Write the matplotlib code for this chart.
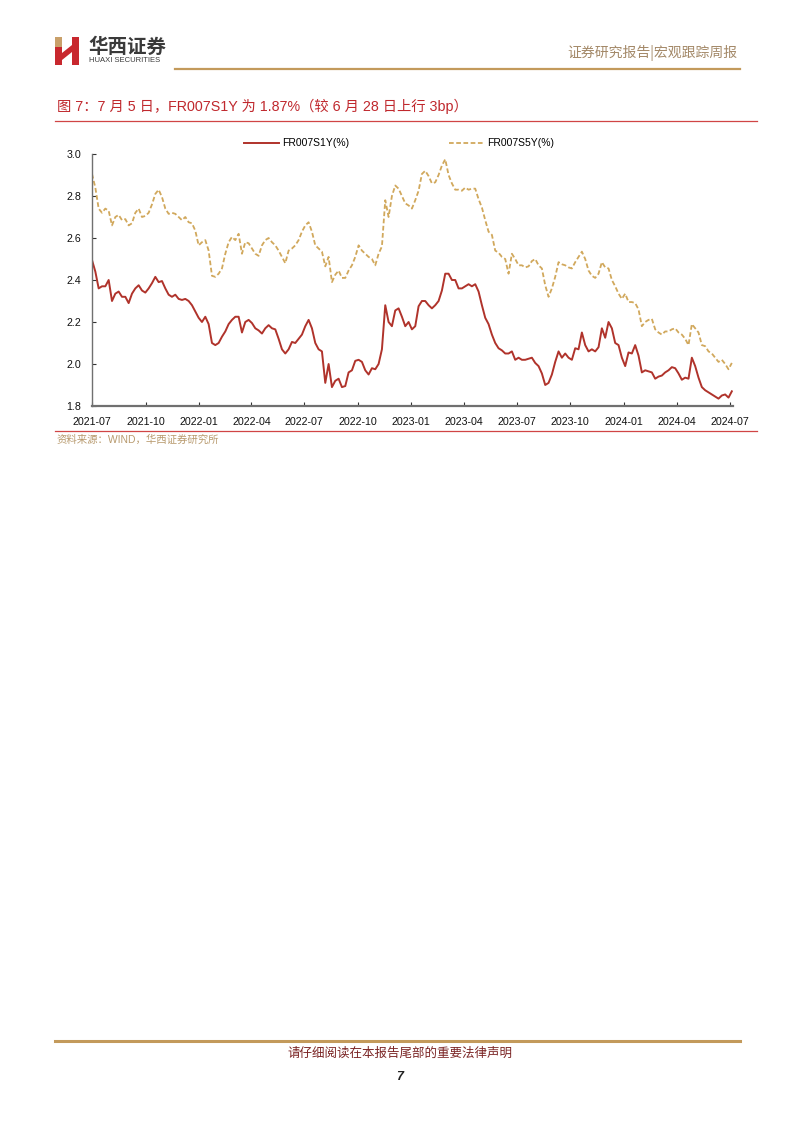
import matplotlib
matplotlib.use("Agg")
import matplotlib.pyplot as plt
import matplotlib.dates as mdates
from matplotlib.lines import Line2D
from matplotlib.patches import Rectangle, Polygon
import pandas as pd

W, H = 802, 1133

# FR007 swap rates (roughly every 5-6 days)
s1y = [
    2.495, 2.44, 2.36, 2.37, 2.37, 2.40, 2.30, 2.335, 2.345, 2.32,
    2.32, 2.29, 2.335, 2.36, 2.375, 2.35, 2.34, 2.36, 2.385, 2.415,
    2.39, 2.395, 2.36, 2.33, 2.32, 2.33, 2.31, 2.305, 2.31, 2.30,
    2.28, 2.25, 2.22, 2.20, 2.225, 2.19, 2.10, 2.09, 2.10, 2.13,
    2.155, 2.19, 2.21, 2.225, 2.225, 2.15, 2.20, 2.21, 2.195, 2.17,
    2.16, 2.145, 2.17, 2.185, 2.17, 2.165, 2.12, 2.07, 2.05, 2.07,
    2.105, 2.10, 2.12, 2.14, 2.18, 2.21, 2.17, 2.10, 2.07, 2.06,
    1.91, 2.00, 1.89, 1.92, 1.93, 1.89, 1.895, 1.96, 1.97, 2.015,
    2.02, 2.01, 1.97, 1.95, 1.98, 1.975, 2.00, 2.07, 2.28, 2.20,
    2.18, 2.255, 2.265, 2.225, 2.18, 2.20, 2.165, 2.18, 2.275, 2.30,
    2.30, 2.28, 2.265, 2.28, 2.30, 2.35, 2.43, 2.43, 2.40, 2.40,
    2.36, 2.36, 2.37, 2.38, 2.37, 2.38, 2.345, 2.28, 2.22, 2.19,
    2.14, 2.10, 2.075, 2.065, 2.05, 2.05, 2.06, 2.02, 2.03, 2.02,
    2.02, 2.025, 2.03, 2.005, 1.99, 1.955, 1.90, 1.91, 1.95, 2.01,
    2.06, 2.03, 2.05, 2.03, 2.02, 2.075, 2.07, 2.15, 2.09, 2.06,
    2.07, 2.06, 2.08, 2.17, 2.125, 2.20, 2.17, 2.10, 2.09, 2.03,
    1.99, 2.055, 2.05, 2.09, 2.04, 1.96, 1.97, 1.965, 1.96, 1.93,
    1.94, 1.945, 1.96, 1.97, 1.985, 1.98, 1.955, 1.925, 1.935, 1.93,
    2.03, 1.99, 1.935, 1.89, 1.875, 1.865, 1.855, 1.845, 1.835, 1.85,
    1.855, 1.84, 1.87,
]

s5y = [
    2.905, 2.84, 2.74, 2.72, 2.74, 2.73, 2.66, 2.70, 2.71, 2.685,
    2.69, 2.66, 2.67, 2.72, 2.74, 2.70, 2.705, 2.72, 2.76, 2.81,
    2.83, 2.795, 2.74, 2.715, 2.72, 2.715, 2.70, 2.685, 2.70, 2.675,
    2.67, 2.635, 2.565, 2.58, 2.59, 2.54, 2.42, 2.415, 2.43, 2.455,
    2.525, 2.58, 2.605, 2.59, 2.62, 2.525, 2.58, 2.575, 2.55, 2.525,
    2.515, 2.565, 2.59, 2.60, 2.58, 2.565, 2.54, 2.51, 2.48, 2.54,
    2.55, 2.565, 2.59, 2.63, 2.66, 2.675, 2.63, 2.565, 2.55, 2.535,
    2.465, 2.51, 2.39, 2.425, 2.445, 2.41, 2.41, 2.445, 2.47, 2.51,
    2.565, 2.54, 2.525, 2.51, 2.50, 2.47, 2.525, 2.56, 2.78, 2.70,
    2.80, 2.85, 2.835, 2.80, 2.765, 2.755, 2.74, 2.78, 2.825, 2.905,
    2.92, 2.895, 2.86, 2.865, 2.90, 2.945, 2.975, 2.90, 2.86, 2.83,
    2.83, 2.825, 2.84, 2.83, 2.835, 2.835, 2.785, 2.745, 2.685, 2.63,
    2.615, 2.54, 2.53, 2.51, 2.50, 2.43, 2.525, 2.50, 2.47, 2.47,
    2.46, 2.465, 2.49, 2.50, 2.47, 2.455, 2.375, 2.32, 2.36, 2.415,
    2.485, 2.475, 2.47, 2.46, 2.455, 2.485, 2.51, 2.535, 2.50, 2.445,
    2.42, 2.41, 2.43, 2.485, 2.46, 2.455, 2.40, 2.37, 2.335, 2.31,
    2.335, 2.295, 2.295, 2.29, 2.26, 2.18, 2.20, 2.21, 2.215, 2.165,
    2.15, 2.14, 2.155, 2.155, 2.165, 2.17, 2.15, 2.14, 2.12, 2.09,
    2.19, 2.17, 2.15, 2.09, 2.085, 2.06, 2.05, 2.03, 2.01, 2.02,
    2.00, 1.975, 2.005,
]

start_date, end_date = "2021-07-01", "2024-07-05"
tick_dates = pd.date_range("2021-07-01", "2024-07-01", freq="QS")
y_ticks = [1.8, 2.0, 2.2, 2.4, 2.6, 2.8, 3.0]

RED = "#b0332b"
GOLD = "#d1a85c"
CJK = ["Liberation Sans", "Noto Sans CJK SC", "DejaVu Sans"]

plt.rcParams["font.family"] = CJK


def fx(x):
    return x / W


def fy(y):
    return 1 - y / H


def hline(fig, x0, x1, y, color, lw):
    fig.add_artist(Line2D([fx(x0), fx(x1)], [fy(y), fy(y)],
                          transform=fig.transFigure, color=color, lw=lw))


fig = plt.figure(figsize=(W / 100, H / 100), dpi=100)

# header: logo, name, report type
fig.add_artist(Rectangle((fx(55), fy(47)), fx(7), 10 / H, transform=fig.transFigure,
                         color="#c9a06a", lw=0))
fig.add_artist(Rectangle((fx(55), fy(65)), fx(7), 18 / H, transform=fig.transFigure,
                         color="#c8282e", lw=0))
fig.add_artist(Rectangle((fx(72), fy(65)), fx(7), 28 / H, transform=fig.transFigure,
                         color="#c8282e", lw=0))
fig.add_artist(Polygon([(fx(62), fy(53)), (fx(72), fy(45)), (fx(72), fy(52)), (fx(62), fy(60))],
                       closed=True, transform=fig.transFigure, color="#c8282e", lw=0))
fig.text(fx(88), fy(47), "华西证券", fontsize=14, fontweight="bold", color="#3a3a3a",
         va="center", ha="left", family="Noto Sans CJK SC")
fig.text(fx(89), fy(61), "HUAXI SECURITIES", fontsize=5.5, color="#3a3a3a",
         va="center", ha="left")
fig.text(fx(737), fy(53), "证券研究报告|宏观跟踪周报", fontsize=10, color="#a38867",
         va="center", ha="right", family="Noto Sans CJK SC")
hline(fig, 175, 740, 69, "#c39a5b", 1.6)

# figure title
fig.text(fx(57), fy(106), "图 7：7 月 5 日，FR007S1Y 为 1.87%（较 6 月 28 日上行 3bp）",
         fontsize=10.3, color="#c0282d", va="center", ha="left")
hline(fig, 55, 757, 121, "#d04545", 0.9)

# chart
dates = pd.date_range(start_date, end_date, periods=len(s1y))
dates5 = pd.date_range(start_date, end_date, periods=len(s5y))

ax = fig.add_axes([fx(92), fy(406), (733 - 92) / W, (406 - 154) / H])
ax.plot(dates, s1y, color=RED, lw=1.4, label="FR007S1Y(%)")
ax.plot(dates5, s5y, color=GOLD, lw=1.3, linestyle=(0, (2.6, 1.4)), label="FR007S5Y(%)")

ax.set_ylim(1.8, 3.0)
ax.set_yticks(y_ticks)
ax.set_yticklabels([f"{v:.1f}" for v in y_ticks])
ax.set_xlim(pd.Timestamp("2021-07-01"), pd.Timestamp("2024-07-07"))
ax.set_xticks(tick_dates)
ax.xaxis.set_major_formatter(mdates.DateFormatter("%Y-%m"))

for side in ["top", "right"]:
    ax.spines[side].set_visible(False)
ax.spines["left"].set_color("#707070")
ax.spines["left"].set_linewidth(1.0)
ax.spines["bottom"].set_color("#707070")
ax.spines["bottom"].set_linewidth(1.6)
ax.tick_params(axis="both", direction="in", length=3, width=0.8, color="#333333",
               labelsize=7.7, labelcolor="#111111")
ax.tick_params(axis="x", pad=8)
ax.tick_params(axis="y", pad=8)

ax.legend(loc="center", bbox_to_anchor=(0.479, 1.043), ncol=2, frameon=False,
          fontsize=7.5, handlelength=3.4, handletextpad=0.3, columnspacing=9.5)

hline(fig, 55, 757, 431, "#d04545", 0.9)
fig.text(fx(57), fy(440), "资料来源：WIND，华西证券研究所", fontsize=7.5, color="#b89a6e",
         va="center", ha="left")

# footer
hline(fig, 55, 740, 1041, "#c39a5b", 2.2)
fig.text(fx(400), fy(1053), "请仔细阅读在本报告尾部的重要法律声明", fontsize=9,
         color="#7a2323", va="center", ha="center", family="Noto Sans CJK SC")
fig.text(fx(400), fy(1077), "7", fontsize=9, fontweight="bold", style="italic",
         color="#222222", va="center", ha="center")

fig.savefig("out.png", dpi=100)
